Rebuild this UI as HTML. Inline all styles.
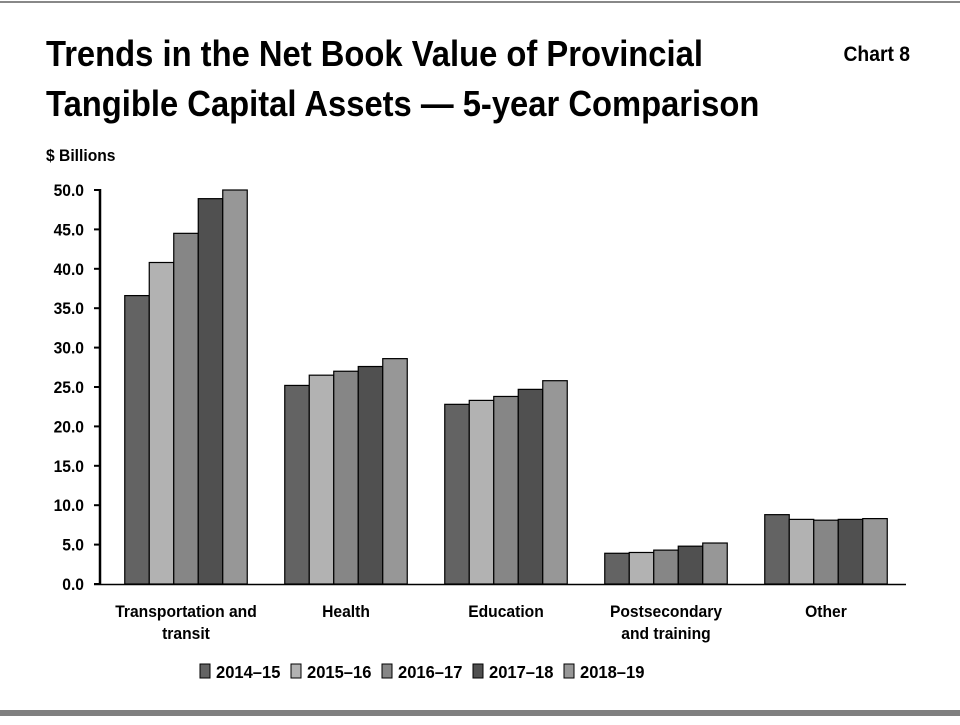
<!DOCTYPE html>
<html><head><meta charset="utf-8"><style>
body{margin:0;background:#fff;font-family:"Liberation Sans",Arial,sans-serif;}
svg text{font-family:"Liberation Sans",Arial,sans-serif;font-weight:bold;}
</style></head><body>
<svg id="c" width="960" height="720">
<rect x="0" y="1" width="960" height="2" fill="#888"/>
<rect x="0" y="710" width="960" height="6" fill="#808080"/>
<text x="46" y="66" font-size="36" transform="scale(0.91,1)" transform-origin="46 66">Trends in the Net Book Value of Provincial</text>
<text x="46" y="116" font-size="36" transform="scale(0.91,1)" transform-origin="46 116">Tangible Capital Assets — 5-year Comparison</text>
<text x="910" y="61" font-size="21" text-anchor="end" transform="scale(0.92,1)" transform-origin="910 61">Chart 8</text>
<text x="46" y="161" font-size="17" transform="scale(0.92,1)" transform-origin="46 161">$ Billions</text>
<g id="plot"></g>
</svg>
<script>
const categories=["Transportation and|transit","Health","Education","Postsecondary|and training","Other"];
const series=["2014–15","2015–16","2016–17","2017–18","2018–19"];
const s2014=[36.6,25.2,22.8,3.9,8.8];
const s2015=[40.8,26.5,23.3,4.0,8.2];
const s2016=[44.5,27.0,23.8,4.3,8.1];
const s2017=[48.9,27.6,24.7,4.8,8.2];
const s2018=[50.0,28.6,25.8,5.2,8.3];
const ticks=["0.0","5.0","10.0","15.0","20.0","25.0","30.0","35.0","40.0","45.0","50.0"];
const colors=["#636363","#b2b2b2","#868686","#505050","#979797"];
const vals=[s2014,s2015,s2016,s2017,s2018];
const NS="http://www.w3.org/2000/svg";
const g=document.getElementById("plot");
const y0=584,y1=190,vmax=50;
const y=v=>y0-(Math.min(v,vmax)/vmax)*(y0-y1);
const cx=i=>186+160*i;
const bw=24.5;
function el(t,a){const e=document.createElementNS(NS,t);for(const k in a)e.setAttribute(k,a[k]);g.appendChild(e);return e;}
ticks.forEach(t=>{const v=parseFloat(t);
 const l=el("line",{x1:94,x2:100,y1:y(v),y2:y(v),stroke:"#000","stroke-width":2});
 
 
 const tx=el("text",{x:84,y:y(v)+6,"font-size":17,"text-anchor":"end",transform:"scale(0.92,1)","transform-origin":"84 0"});tx.textContent=t;
 
 
});
categories.forEach((c,i)=>{
 vals.forEach((s,j)=>{
  const r=el("rect",{x:cx(i)-2.5*bw+j*bw,y:y(s[i]),width:bw,height:y0-y(s[i]),fill:colors[j],stroke:"#000","stroke-width":1.2});
  
  
 });
 c.split("|").forEach((ln,k)=>{
  const t=el("text",{x:cx(i),y:617+k*22,"font-size":17,"text-anchor":"middle",transform:"scale(0.92,1)","transform-origin":cx(i)+" 0"});t.textContent=ln;
  
  
 });
});
const ax=el("line",{x1:100,x2:100,y1:189,y2:585,stroke:"#000","stroke-width":2.5});


const xa=el("line",{x1:94,x2:906,y1:584.5,y2:584.5,stroke:"#000","stroke-width":1.5});


series.forEach((s,j)=>{
 const lx=200+j*91;
 const r=el("rect",{x:lx,y:664,width:10,height:14,fill:colors[j],stroke:"#000","stroke-width":1});
 
 
 const t=el("text",{x:lx+16,y:678,"font-size":18,transform:"scale(0.92,1)","transform-origin":(lx+16)+" 0"});t.textContent=s;
 
 
});
</script>
</body></html>
